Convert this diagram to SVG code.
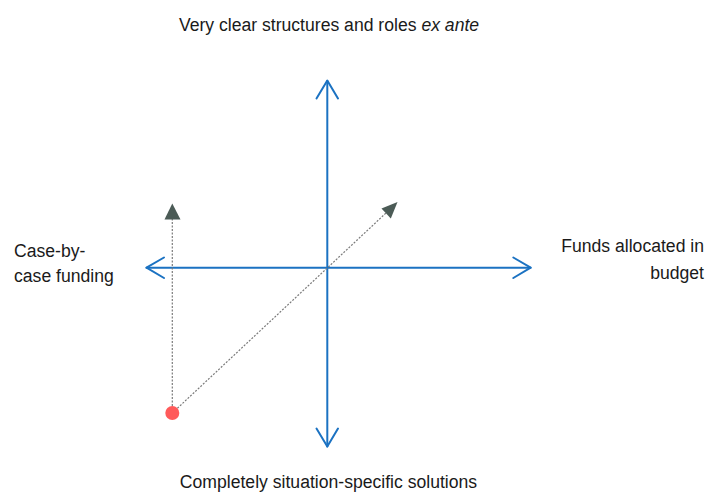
<svg xmlns="http://www.w3.org/2000/svg" width="709" height="493" viewBox="0 0 709 493">
<style>
.lbl{font-family:"Liberation Sans",Arial,sans-serif;font-size:17.6px;fill:#1a1a1a}
.axis{stroke:#1B72C2;stroke-width:2;fill:none;stroke-linecap:round;stroke-linejoin:round}
.dot{stroke:#7a7a7a;stroke-width:1.2;stroke-dasharray:2,1.5;fill:none}
.head{fill:#4B5B56}
</style>
<rect width="709" height="493" fill="#ffffff"/>
<g id="connectors">
<path class="axis" d="M327.3,81 V446.5"/>
<path class="axis" d="M316.5,98.5 L327.3,80.5 L338,98.5"/>
<path class="axis" d="M316.5,428.5 L327.3,446.5 L338,428.5"/>
<path class="axis" d="M146.5,267.7 H530.5"/>
<path class="axis" d="M164,257.5 L146.5,267.7 L164,278"/>
<path class="axis" d="M513.3,257.5 L530.7,267.7 L513.3,278"/>
<path class="dot" d="M172.3,413 V219"/>
<polygon class="head" points="172.3,203.5 164.5,219.5 180.5,219.5"/>
<path class="dot" d="M172.3,413 L386,213"/>
<polygon class="head" points="397.5,202 381.5,208.5 390.8,218.5"/>
</g>
<g id="origin">
<circle cx="172.3" cy="413" r="7" fill="#FF5A5A"/>
</g>
<g id="top-label">
<text class="lbl" x="329" y="30.5" text-anchor="middle">Very clear structures and roles <tspan font-style="italic">ex ante</tspan></text>
</g>
<g id="bottom-label">
<text class="lbl" x="328.5" y="488" text-anchor="middle">Completely situation-specific solutions</text>
</g>
<g id="left-label">
<text class="lbl" x="14" y="256.7">Case-by-</text>
<text class="lbl" x="14" y="281.5">case funding</text>
</g>
<g id="right-label">
<text class="lbl" x="704" y="252" text-anchor="end">Funds allocated in</text>
<text class="lbl" x="704" y="279" text-anchor="end">budget</text>
</g>
</svg>
